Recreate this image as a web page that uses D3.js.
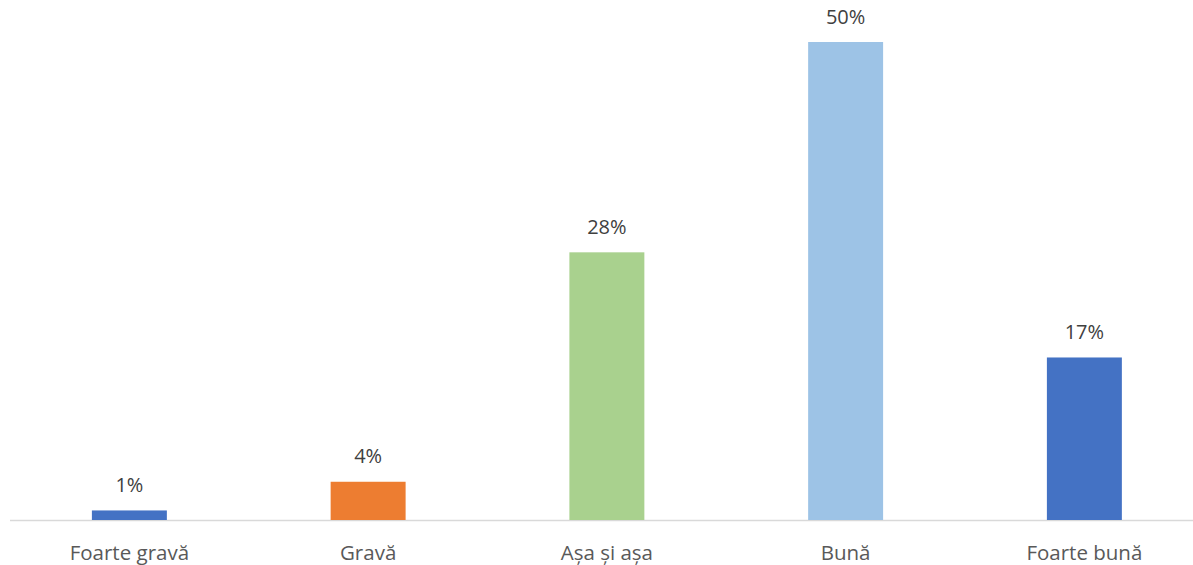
<!DOCTYPE html>
<html><head><meta charset="utf-8">
<script src="https://cdn.jsdelivr.net/npm/d3@7"></script>
<style>body{margin:0;background:#fff}svg{display:block}</style>
</head><body><svg id="c" width="1193" height="565"></svg>
<script>
const categories = ["Foarte gravă", "Gravă", "Așa și așa", "Bună", "Foarte bună"];
const values = [1, 4, 28, 50, 17];
const valueLabels = ["1%", "4%", "28%", "50%", "17%"];
const colors = ["#4472C4", "#ED7D31", "#A9D18E", "#9DC3E6", "#4472C4"];

const svg = d3.select("#c");
const font = "'Open Sans', sans-serif";
const x = d3.scaleBand().domain(categories).range([10, 1203.75]).paddingInner(0.686).paddingOuter(0.343);
const y = d3.scaleLinear().domain([0, 50]).range([520, 42]);

svg.append("line").attr("x1", 10).attr("x2", 1193).attr("y1", 520.5).attr("y2", 520.5)
  .attr("stroke", "#d9d9d9").attr("stroke-width", 1.3);

svg.selectAll("rect.bar").data(values).enter().append("rect")
  .attr("x", (d, i) => x(categories[i]))
  .attr("width", x.bandwidth())
  .attr("y", d => y(d))
  .attr("height", d => y(0) - y(d))
  .attr("fill", (d, i) => colors[i]);

svg.selectAll("text.val").data(values).enter().append("text")
  .attr("x", (d, i) => x(categories[i]) + x.bandwidth() / 2)
  .attr("y", d => y(d) - 18.5)
  .attr("text-anchor", "middle")
  .attr("font-family", font).attr("font-size", 20).attr("fill", "#404040")
  .text((d, i) => valueLabels[i]);

svg.selectAll("text.cat").data(categories).enter().append("text")
  .attr("x", d => x(d) + x.bandwidth() / 2)
  .attr("y", 560)
  .attr("text-anchor", "middle")
  .attr("font-family", font).attr("font-size", 20.5).attr("fill", "#595959")
  .text(d => d);
</script></body></html>
